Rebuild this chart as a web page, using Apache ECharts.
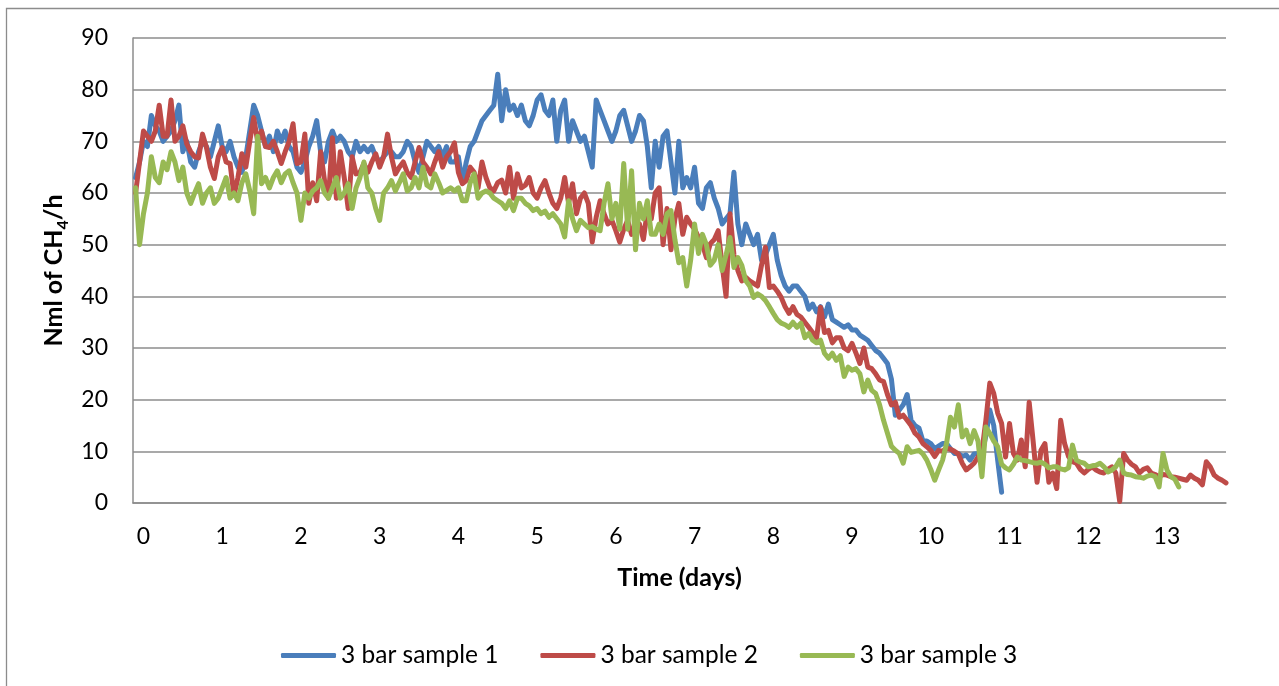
<!DOCTYPE html>
<html>
<head>
<meta charset="utf-8">
<script src="https://cdn.jsdelivr.net/npm/echarts@6/dist/echarts.min.js"></script>
<style>
html,body{margin:0;padding:0;background:#fff;}
#chart{width:1279px;height:686px;}
</style>
</head>
<body>
<div id="chart"></div>
<script>
// Time axis: samples every 0.05 day starting at -0.1 day
const timeStart = -0.1;
const timeStep = 0.05;

const seriesNames = ['3 bar sample 1', '3 bar sample 2', '3 bar sample 3'];
const xTickLabels = [0,1,2,3,4,5,6,7,8,9,10,11,12,13];

const sample1 = [
  63, 66, 70, 69, 75, 73, 72, 70, 71, 72,
  74, 77, 68, 70, 66, 65, 68, 70, 69, 67,
  70, 73, 69, 68, 70, 67, 65, 64, 67, 72,
  77, 75, 72, 69, 71, 68, 72, 70, 72, 69,
  68, 65, 64, 66, 69, 71, 74, 68, 66, 70,
  72, 70, 71, 70, 68, 67, 70, 68, 69, 68,
  69, 67, 66, 67, 68, 68, 67, 67, 68, 70,
  69, 66, 64, 67, 70, 69, 68, 69, 67, 69,
  66, 66, 67, 62, 66, 69, 70, 72, 74, 75,
  76, 77, 83, 74, 80, 76, 77, 75, 77, 74,
  73, 75, 78, 79, 76, 75, 78, 70, 76, 78,
  70, 74, 72, 70, 71, 68, 65, 78, 76, 74,
  72, 70, 72, 75, 76, 73, 70, 72, 75, 74,
  69, 61, 70, 65, 71, 72, 66, 60, 70, 61,
  63, 61, 65, 58, 57, 61, 62, 59, 57, 54,
  55, 56, 64, 54, 50, 54, 52, 50, 52, 47,
  48, 50, 52, 47, 44, 42, 41, 42, 42, 41,
  40, 37.5, 38.5, 37, 38, 36, 38.5, 35.5, 35, 34.5,
  34, 34.5, 33.5, 33.5, 32.5, 32, 31.5, 30.5, 29.5, 29,
  28, 27, 24, 17, 18, 19, 21, 16, 15, 14.5,
  12, 12, 11.5, 10.5, 11, 11.5, 11.5, 10.5, 9.6, 9.6,
  9, 9.3, 8.3, 9.5, 9.6, 9.6, 13, 18, 15, 8.3, 2.1
];

const sample2 = [
  60, 66, 72, 71, 70, 72, 77, 71, 71, 78,
  70, 71, 73, 69.5, 68, 67, 66.8, 71.4, 68.8, 65,
  62.8, 67, 68.8, 66, 65.7, 59.5, 63, 67.6, 65, 70,
  74.6, 70, 72, 69, 68.8, 70, 68, 65.7, 68, 70,
  73.4, 65.7, 66, 71.4, 58, 62, 58.5, 68, 62.4, 59,
  70.7, 59, 68, 63, 57, 67, 63.7, 64, 65.7, 64,
  66, 67.6, 65, 67, 71.4, 67, 63.7, 65, 66, 64,
  63, 66, 68.8, 66, 65, 63.7, 66, 68, 65, 67,
  68, 69.7, 64, 61.8, 62.4, 65, 64, 61, 66, 63,
  61, 60.4, 62, 62.5, 60, 65, 59, 63.7, 61, 61.5,
  63, 60, 59, 61, 62.4, 60, 58, 57, 59, 63,
  58, 61.8, 56, 59, 60, 58, 50.5, 55.3, 58.5, 56,
  54, 54.7, 52.7, 50.5, 53, 54.7, 52, 53, 54, 51,
  56.6, 55, 60, 61, 50, 57, 49, 55, 58, 52,
  55.3, 54, 53, 51.4, 50, 47.5, 50.2, 51, 52.7, 46,
  40, 56, 48, 45, 43, 43.7, 43, 42.5, 42, 46,
  49.5, 41.7, 42, 41, 39.8, 38, 36.7, 38, 36.5, 36,
  35, 34, 33, 32, 37.9, 33, 33.4, 31, 32, 32,
  30, 29.5, 30.9, 29, 27, 30, 26.3, 26, 25, 23.8,
  23.5, 21, 19, 19.5, 16.6, 17, 16, 15, 13.5, 12.8,
  11.5, 10.9, 10.2, 9, 10.2, 10, 10.6, 10.4, 10, 9.5,
  7.7, 6.4, 7, 7.7, 8.9, 10, 16, 23.2, 21.2, 17.4,
  15.4, 8.9, 15.4, 9.6, 8.3, 12.2, 7, 19.5, 12, 4,
  10.2, 11.5, 4, 5.8, 2.8, 16, 11.5, 9, 8, 7.7,
  6.5, 5.8, 6.5, 7, 6.4, 6, 5.8, 6.5, 7, 5.8,
  0.3, 9.6, 8.3, 7.5, 7, 5.8, 6.5, 6.8, 5.8, 5.5,
  5.1, 5.5, 5.4, 5.1, 5, 4.8, 4.6, 4.4, 5.4, 4.8,
  4.4, 3.5, 8, 7, 5.4, 4.8, 4.4, 3.9
];

const sample3 = [
  61, 50, 56, 60, 67, 63, 62, 66, 64.5, 68,
  66, 62.4, 65, 60, 58, 60, 61.8, 58, 60, 61,
  58, 59, 61, 63, 59, 60, 58.5, 62, 63.7, 60.4,
  56, 71, 61.8, 63, 61, 63, 64.3, 62, 63.7, 64.3,
  62, 60, 54.7, 60, 59, 60.4, 61, 62.4, 60, 59,
  61, 63, 59, 60, 61.8, 57, 61, 63, 66, 61,
  60, 57, 54.7, 60, 61, 62.4, 60.4, 62, 63.7, 60.4,
  61, 63, 61, 65, 61.5, 61, 63.7, 62, 60, 60.5,
  61, 60.4, 61, 58.5, 58.5, 62, 63.7, 59, 60, 60.4,
  60, 59, 58.5, 58, 57, 58.5, 56.6, 59, 59, 58,
  57.5, 56.6, 57, 56, 56.5, 55.3, 56, 55, 54, 51.5,
  58.5, 55, 52.7, 54.7, 54, 53.3, 53.5, 53, 52.7, 58,
  61.8, 55, 58, 53, 65.7, 53, 64.3, 49, 58, 55,
  58.5, 52, 52, 54, 52, 56, 56.6, 51, 46.5, 47.5,
  42, 47, 54, 48.3, 52, 50, 46, 47, 50, 45,
  48, 51.4, 45.6, 47.5, 46, 43, 42, 39.8, 40.5, 40,
  39.2, 38, 36.7, 35.5, 34.8, 34.5, 34, 35, 34, 34.8,
  32, 32.8, 31.5, 31, 31.5, 29, 28, 29, 27.6, 28.5,
  24.5, 26.3, 25.7, 26, 25, 21.5, 23.8, 21.8, 21.2, 19,
  16, 13.5, 11, 10.2, 9.6, 7.7, 10.9, 9.8, 10, 10.2,
  9.5, 8.3, 6.5, 4.4, 6.4, 8.3, 11.5, 16.6, 14.7, 19,
  12.8, 14.1, 11.5, 14, 12, 5.1, 14.7, 13.5, 12, 10.9,
  7.5, 6.8, 6.4, 7.5, 8.9, 8.3, 8.2, 8, 7.8, 7.7,
  7.9, 7.5, 6.8, 7, 7, 6.6, 6.4, 6.8, 11.2, 8.3,
  7.9, 7.7, 7, 7.2, 7.3, 7.7, 7, 6, 6.4, 7,
  8.3, 5.8, 5.5, 5.4, 5.1, 5, 4.8, 5.2, 5.4, 5.1,
  3.1, 9.6, 6.4, 5.1, 4.6, 3.1
];

const seriesColors = ['#4A7EBB', '#BE4B48', '#98B954'];
const FONT = 'Lato, "Open Sans", sans-serif';

function toPairs(vals) {
  return vals.map((v, i) => [+(timeStart + i * timeStep).toFixed(3), v]);
}

const chart = echarts.init(document.getElementById('chart'), null, {renderer: 'canvas'});

const allSamples = [sample1, sample2, sample3];

chart.setOption({
  animation: false,
  backgroundColor: '#ffffff',
  graphic: [{
    type: 'rect',
    shape: {x: 6.5, y: 8.5, width: 1400, height: 800},
    style: {fill: null, stroke: '#8c8c8c', lineWidth: 1.3},
    silent: true, z: -10
  }],
  grid: {left: 133, right: 53, top: 38, bottom: 183, containLabel: false},
  legend: {
    data: seriesNames,
    left: 276,
    top: 638,
    icon: 'roundRect',
    itemWidth: 55,
    itemHeight: 5,
    itemGap: 42,
    textStyle: {fontFamily: FONT, fontSize: 24.5, color: '#000'}
  },
  xAxis: {
    type: 'value',
    min: -0.133,
    max: 13.75,
    name: 'Time (days)',
    nameLocation: 'middle',
    nameGap: 62,
    nameTextStyle: {fontFamily: FONT, fontSize: 25, fontWeight: 'bold', color: '#000'},
    axisLine: {show: true, onZero: false, lineStyle: {color: '#8c8c8c', width: 1.5}},
    axisTick: {show: false},
    splitLine: {show: false},
    axisLabel: {
      customValues: xTickLabels,
      fontFamily: FONT, fontSize: 23, color: '#000', margin: 22,
      showMinLabel: true, showMaxLabel: true
    }
  },
  yAxis: {
    type: 'value',
    min: 0,
    max: 90,
    interval: 10,
    name: '{b|Nml of CH}{s|4}{b|/h}',
    nameLocation: 'middle',
    nameRotate: 90,
    nameGap: 49,
    nameTextStyle: {
      rich: {
        b: {fontFamily: FONT, fontSize: 25, fontWeight: 'bold', color: '#000', lineHeight: 32, verticalAlign: 'middle'},
        s: {fontFamily: FONT, fontSize: 16, fontWeight: 'bold', color: '#000', lineHeight: 17, verticalAlign: 'bottom'}
      }
    },
    axisLine: {show: true, onZero: false, lineStyle: {color: '#8c8c8c', width: 1.5}},
    axisTick: {show: false},
    splitLine: {show: true, lineStyle: {color: '#8c8c8c', width: 1.5}},
    axisLabel: {fontFamily: FONT, fontSize: 23, color: '#000', margin: 25}
  },
  series: allSamples.map((vals, k) => ({
    name: seriesNames[k],
    type: 'line',
    data: toPairs(vals),
    showSymbol: false,
    symbol: 'none',
    smooth: false,
    color: seriesColors[k],
    lineStyle: {color: seriesColors[k], width: 5, join: 'round', cap: 'round'},
    z: 2 + k
  }))
});
</script>
</body>
</html>
